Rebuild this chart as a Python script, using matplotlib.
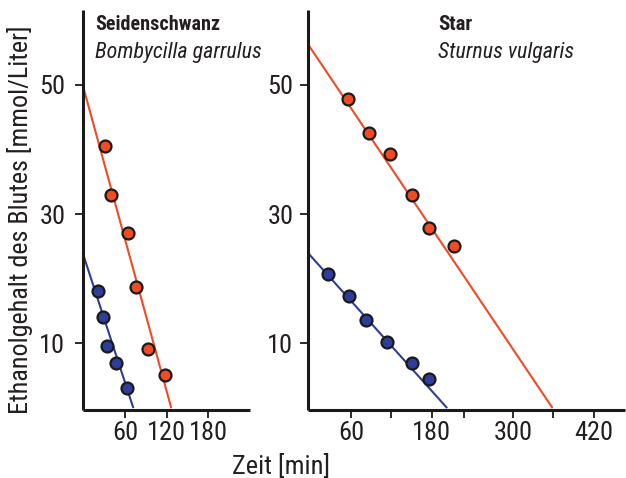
import matplotlib
matplotlib.use("Agg")
import matplotlib.pyplot as plt

plt.rcParams['font.family'] = ['Roboto Condensed', 'Liberation Sans', 'DejaVu Sans']

# ---- data ----
# Seidenschwanz (Bombycilla garrulus)
seid_red_x = [31, 39.5, 64, 75.5, 93.6, 117]
seid_red_y = [40.6, 33.0, 27.1, 18.7, 9.1, 5.1]
seid_blue_x = [21, 28.2, 34, 47, 62.4]
seid_blue_y = [18.1, 14.1, 9.6, 7.0, 3.1]
# fitted lines: y at left spine, x where y reaches 0
seid_red_fit = (50.0, 126.6)
seid_blue_fit = (24.0, 72.0)

# Star (Sturnus vulgaris)
star_red_x = [56.4, 87.6, 118.4, 150.6, 175.3, 212.5]
star_red_y = [47.8, 42.6, 39.3, 32.9, 27.8, 25.1]
star_blue_x = [26.7, 57.5, 82.3, 113.5, 150.6, 175.3]
star_blue_y = [20.7, 17.4, 13.6, 10.3, 7.0, 4.5]
star_red_fit = (56.3, 358.7)
star_blue_fit = (24.0, 202.6)

y_ticks = [10, 30, 50]
seid_xticks = [60, 120, 180]
star_xticks = [60, 120, 180, 228, 300, 360, 420]
star_xlabels = ["60", "", "180", "", "300", "", "420"]

RED = "#F04B23"
BLUE = "#2E3D99"
EDGE = "#1a1a1a"
TXT = "#231F20"

fig = plt.figure(figsize=(6.26, 4.78), dpi=100)
ax1 = fig.add_axes([82.7/626, 68/478, 167.3/626, 400/478])
ax2 = fig.add_axes([308/626, 68/478, 317/626, 400/478])

def style(ax, xlim, xticks, xlabels, ypad):
    ax.set_xlim(*xlim)
    ax.set_ylim(-0.3, 61.6)
    for s in ("top", "right"):
        ax.spines[s].set_visible(False)
    for s in ("left", "bottom"):
        ax.spines[s].set_linewidth(2.2)
        ax.spines[s].set_color(EDGE)
        ax.spines[s].set_capstyle("butt")
    ax.set_yticks(y_ticks)
    ax.set_yticklabels([str(v) for v in y_ticks])
    ax.set_xticks(xticks)
    ax.set_xticklabels(xlabels)
    ax.tick_params(axis="both", direction="out", length=5.5, width=1.3,
                   color=EDGE, labelsize=19, labelcolor=TXT)
    ax.tick_params(axis="x", pad=2.5)
    ax.tick_params(axis="y", pad=ypad)
    ax.set_facecolor("none")

def draw(ax, xlim, fit, xs, ys, color):
    y0, x0 = fit
    ax.plot([xlim[0], x0], [y0, 0], color=color, lw=1.5, zorder=2,
            solid_capstyle="butt", clip_on=False)
    ax.plot(xs, ys, "o", ms=8.6, mfc=color, mec=EDGE, mew=1.6, zorder=3,
            clip_on=False)

xl1 = (-1, 240)
xl2 = (-3.4, 466)
style(ax1, xl1, seid_xticks, [str(v) for v in seid_xticks], 7)
style(ax2, xl2, star_xticks, star_xlabels, 5)

draw(ax1, xl1, seid_red_fit, seid_red_x, seid_red_y, RED)
draw(ax1, xl1, seid_blue_fit, seid_blue_x, seid_blue_y, BLUE)
draw(ax2, xl2, star_red_fit, star_red_x, star_red_y, RED)
draw(ax2, xl2, star_blue_fit, star_blue_x, star_blue_y, BLUE)

fig.text(95/626, 1 - 30/478, "Seidenschwanz", fontsize=14.5, fontweight="bold",
         color=TXT, ha="left", va="baseline")
fig.text(95/626, 1 - 58/478, "Bombycilla garrulus", fontsize=15.8, style="italic",
         color=TXT, ha="left", va="baseline")
fig.text(438/626, 1 - 30/478, "Star", fontsize=15, fontweight="bold",
         color=TXT, ha="left", va="baseline")
fig.text(438/626, 1 - 58/478, "Sturnus vulgaris", fontsize=15.8, style="italic",
         color=TXT, ha="left", va="baseline")

fig.text(20/626, 1 - 220/478, "Ethanolgehalt des Blutes [mmol/Liter]", fontsize=18.8,
         rotation=90, ha="center", va="center", color=TXT)
fig.text(281/626, 1 - 466/478, "Zeit [min]", fontsize=19, ha="center",
         va="center", color=TXT)

fig.savefig("out.png", dpi=100)
